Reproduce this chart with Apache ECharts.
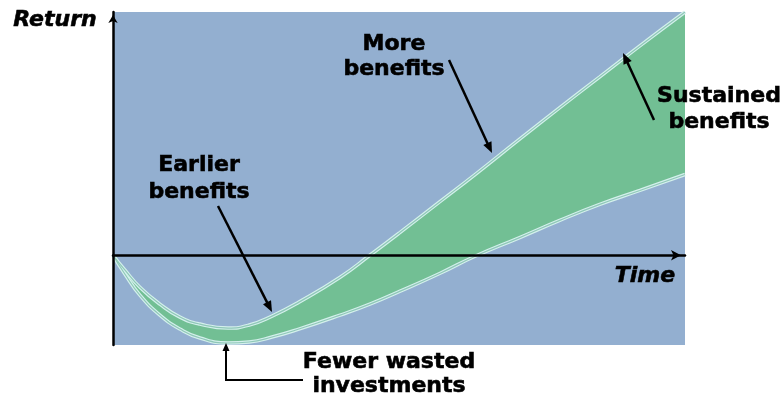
<!DOCTYPE html>
<html>
<head>
<meta charset="utf-8">
<script src="https://cdn.jsdelivr.net/npm/echarts@6/dist/echarts.min.js"></script>
<style>
  html, body { margin: 0; padding: 0; background: #ffffff; }
  #chart { width: 783px; height: 398px; }
</style>
</head>
<body>
<div id="chart"></div>
<script>
// Time samples shared by both return curves
const time = [0, 2.1, 4.7, 8.2, 11.7, 15.2, 20.1, 23.8, 27.8, 32.5, 39.7, 44.9, 50.2, 57.2, 63.3, 71.2, 78.1, 85.1, 92.1, 100];
// Improved return path (upper edge of the band)
const improvedReturn = [0, -15, -32, -49, -62, -69, -73, -70, -61, -47, -22, 0, 23, 54, 81, 117, 148, 179, 210, 244];
// Baseline return path (lower edge of the band)
const baselineReturn = [0, -19, -40, -60, -74, -83, -88, -87, -82, -74, -60, -49, -36, -18, -1, 18, 35, 51, 65, 81];

const axisTitles = { y: 'Return', x: 'Time' };
const callouts = {
  more: ['More', 'benefits'],
  earlier: ['Earlier', 'benefits'],
  sustained: ['Sustained', 'benefits'],
  fewer: ['Fewer wasted', 'investments']
};

const BG = '#93afd0';
const GREEN = '#72bf94';
const EDGE_OUTER = '#d4f0ec';
const EDGE_INNER = '#8fc7b8';
const SMOOTH = 0.5;

const pairs = (ys) => time.map((t, i) => [t, ys[i]]);

function edgeSeries(name, ys, width, color, z) {
  return {
    name, type: 'line', data: pairs(ys), smooth: SMOOTH, showSymbol: false, silent: true,
    lineStyle: { width, color }, z
  };
}

const FONT = 'bold 22px "DejaVu Sans"';
const FONT_IT = 'italic bold 22px "DejaVu Sans"';
function label(text, x, y, font) {
  return { type: 'text', x, y, z: 20, style: { text, font: font || FONT, fill: '#000', stroke: '#000', lineWidth: 0.6, align: 'center', verticalAlign: 'middle' } };
}
function arrow(sx, sy, tx, ty, len, wid, lw) {
  const dx = tx - sx, dy = ty - sy, d = Math.hypot(dx, dy);
  const ux = dx / d, uy = dy / d;
  const bx = tx - ux * len, by = ty - uy * len;
  const nx = -uy, ny = ux;
  return [
    { type: 'polyline', z: 20, shape: { points: [[sx, sy], [bx + ux, by + uy]] }, style: { stroke: '#000', lineWidth: lw || 2.5, fill: null } },
    { type: 'polygon', z: 20, shape: { points: [[tx, ty], [bx + nx * wid / 2, by + ny * wid / 2], [bx - nx * wid / 2, by - ny * wid / 2]] }, style: { fill: '#000' } }
  ];
}

const chart = echarts.init(document.getElementById('chart'), null, { renderer: 'canvas' });
chart.setOption({
  animation: false,
  backgroundColor: '#ffffff',
  grid: { left: 113, right: 98, top: 12, bottom: 53, show: true, backgroundColor: BG, borderWidth: 0 },
  xAxis: {
    type: 'value', min: 0, max: 100, z: 10,
    axisLine: { show: true, onZero: true, lineStyle: { color: '#000', width: 2.5 }, symbol: ['none', 'arrow'], symbolSize: [8, 10], symbolOffset: [0, -4] },
    axisTick: { show: false }, axisLabel: { show: false }, splitLine: { show: false }
  },
  yAxis: {
    type: 'value', min: -90, max: 244, z: 10,
    axisLine: { show: true, onZero: false, lineStyle: { color: '#000', width: 2.5 }, symbol: ['none', 'arrow'], symbolSize: [7, 8], symbolOffset: [0, -3] },
    axisTick: { show: false }, axisLabel: { show: false }, splitLine: { show: false }
  },
  series: [
    // green region under the improved path, then the area under the baseline path restores the backdrop
    { name: 'improvedArea', type: 'line', data: pairs(improvedReturn), smooth: SMOOTH, showSymbol: false, silent: true,
      lineStyle: { opacity: 0 }, areaStyle: { color: GREEN, opacity: 1, origin: 'start' }, z: 2 },
    { name: 'baselineArea', type: 'line', data: pairs(baselineReturn), smooth: SMOOTH, showSymbol: false, silent: true,
      lineStyle: { opacity: 0 }, areaStyle: { color: BG, opacity: 1, origin: 'start' }, z: 2 },
    edgeSeries('improvedOuter', improvedReturn, 3.5, EDGE_OUTER, 3),
    edgeSeries('improvedInner', improvedReturn, 1.2, EDGE_INNER, 4),
    edgeSeries('baselineOuter', baselineReturn, 3.5, EDGE_OUTER, 3),
    edgeSeries('baselineInner', baselineReturn, 1.2, EDGE_INNER, 4)
  ],
  graphic: {
    elements: [
      label(axisTitles.y, 55, 20, FONT_IT),
      label(axisTitles.x, 645, 276, FONT_IT),
      label(callouts.more[0], 394, 44),
      label(callouts.more[1], 394, 69),
      label(callouts.earlier[0], 199, 165),
      label(callouts.earlier[1], 199, 192),
      label(callouts.sustained[0], 719, 96),
      label(callouts.sustained[1], 719, 122),
      label(callouts.fewer[0], 389, 362),
      label(callouts.fewer[1], 389, 386),
      ...arrow(449, 60, 492, 153, 11, 9),
      ...arrow(218, 206, 272, 312, 11, 9),
      ...arrow(654, 120, 623, 53, 11, 9),
      { type: 'polyline', z: 20, shape: { points: [[303, 380], [226, 380], [226, 350]] }, style: { stroke: '#000', lineWidth: 2, fill: null } },
      { type: 'polygon', z: 20, shape: { points: [[226, 343], [222.5, 351], [229.5, 351]] }, style: { fill: '#000' } }
    ]
  }
});
</script>
</body>
</html>
